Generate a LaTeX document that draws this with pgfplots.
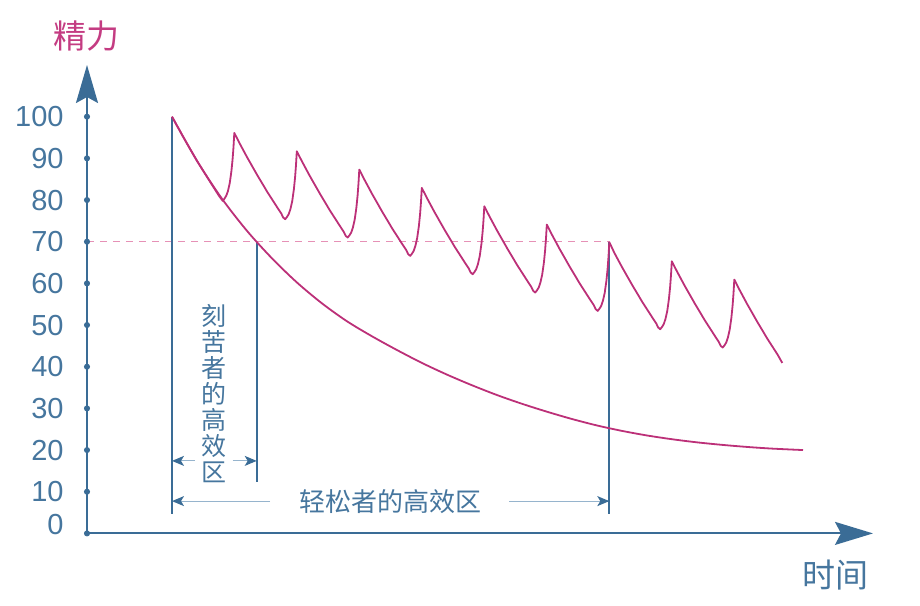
\documentclass[border=0pt]{standalone}
\usepackage{fontspec}
\setmainfont{Liberation Sans}
\newfontfamily\cjk{Noto Sans CJK SC}
\usepackage{pgfplots}
\pgfplotsset{compat=1.18}
\usetikzlibrary{arrows.meta}
\definecolor{axisblue}{RGB}{58,108,150}
\definecolor{textblue}{RGB}{70,118,158}
\definecolor{shaftblue}{RGB}{150,180,205}
\definecolor{curvepink}{RGB}{188,48,120}
\definecolor{titlepink}{RGB}{196,60,130}
\definecolor{dashpink}{RGB}{230,145,182}
\begin{document}
\begin{tikzpicture}
\begin{axis}[
  scale only axis,
  width=393pt, height=234.2pt,
  xmin=0, xmax=786, ymin=0, ymax=112.4,
  axis x line=bottom, axis y line=left,
  x axis line style={draw=axisblue, line width=1pt, -{Stealth[length=19pt,width=11.5pt,inset=3pt]}},
  y axis line style={draw=axisblue, line width=1pt, -{Stealth[length=19pt,width=11pt,inset=3pt]}},
  xtick=\empty,
  ytick={0,10,20,30,40,50,60,70,80,90,100},
  yticklabels={,10,20,30,40,50,60,70,80,90,100},
  major tick length=0pt,
  yticklabel style={anchor=east, inner sep=0pt, xshift=-11.5pt, text=textblue, font=\fontsize{14.5}{14.5}\selectfont},
  clip=false,
]
% 70 reference line
\addplot[dashpink, line width=0.7pt, dash pattern=on 3.5pt off 3pt] coordinates {(0,70) (522.3,70)};
% vertical markers
\addplot[axisblue, line width=0.9pt] coordinates {(85,100) (85,4.6)};
\addplot[axisblue, line width=0.9pt] coordinates {(169.7,70) (169.7,12.4)};
\addplot[axisblue, line width=0.9pt] coordinates {(522.3,70) (522.3,4.6)};
% dimension arrows
\addplot[shaftblue, line width=0.6pt, -{Stealth[length=6pt,width=5pt,inset=1.5pt,color=axisblue]}] coordinates {(108,17.4) (85,17.4)};
\addplot[shaftblue, line width=0.6pt, -{Stealth[length=6pt,width=5pt,inset=1.5pt,color=axisblue]}] coordinates {(145.7,17.4) (169.7,17.4)};
\addplot[shaftblue, line width=0.6pt, -{Stealth[length=6pt,width=5pt,inset=1.5pt,color=axisblue]}] coordinates {(183,7.75) (85,7.75)};
\addplot[shaftblue, line width=0.6pt, -{Stealth[length=6pt,width=5pt,inset=1.5pt,color=axisblue]}] coordinates {(422,7.75) (522.3,7.75)};
% hard worker: steady decay
\addplot[curvepink, line width=0.9pt, smooth] coordinates {
  (85,100) (110,89.4) (135,80.3) (160,72.6) (185,66.0) (210,60.2) (235,55.2)
  (260,50.9) (285,47.3) (310,44.0) (335,40.9) (360,38.1) (385,35.55) (410,33.2)
  (435,31.1) (460,29.2) (485,27.45) (510,25.9) (535,24.6) (560,23.5) (585,22.6)
  (610,21.85) (635,21.25) (660,20.75) (685,20.35) (716,20.0)
};
% relaxed worker: rest and recover
\addplot[curvepink, line width=0.9pt, line join=round] coordinates {
  (85,100) (97.5,94.6) (110,89.4) (122.5,84.6) (132,81.0) (135.7,79.8)
  (137.4,80.3) (139.2,81.0) (140.9,82.1) (142.7,84.0) (144.4,86.9) (145.6,89.8) (146.5,92.7)
  (147.3,96.1) (152.4,93.7) (160.0,90.3) (170.2,86.0) (180.4,81.9) (190.6,78.1) (194.2,76.8) (196.2,75.8)
  (198.2,75.4) (199.9,75.9) (201.7,76.6) (203.4,77.8) (205.2,79.7) (206.9,82.6) (208.1,85.5) (209.0,88.4)
  (209.8,91.7) (214.9,89.3) (222.5,85.9) (232.7,81.6) (242.9,77.5) (253.1,73.7) (256.7,72.4) (258.7,71.4)
  (260.7,71.0) (262.4,71.5) (264.2,72.2) (265.9,73.4) (267.7,75.3) (269.4,78.2) (270.6,81.1) (271.5,84.0)
  (272.3,87.3) (277.4,84.9) (285.0,81.5) (295.2,77.2) (305.4,73.1) (315.6,69.3) (319.2,68.0) (321.2,67.0)
  (323.2,66.6) (324.9,67.1) (326.7,67.8) (328.4,69.0) (330.2,70.9) (331.9,73.8) (333.1,76.7) (334.0,79.6)
  (334.8,82.9) (339.9,80.5) (347.5,77.1) (357.7,72.8) (367.9,68.7) (378.1,64.9) (381.7,63.6) (383.7,62.6)
  (385.7,62.2) (387.4,62.7) (389.2,63.4) (390.9,64.6) (392.7,66.5) (394.4,69.4) (395.6,72.3) (396.5,75.2)
  (397.3,78.5) (402.4,76.1) (410.0,72.7) (420.2,68.4) (430.4,64.3) (440.6,60.5) (444.2,59.2) (446.2,58.2)
  (448.2,57.8) (449.9,58.3) (451.7,59.0) (453.4,60.2) (455.2,62.1) (456.9,65.0) (458.1,67.9) (459.0,70.8)
  (459.8,74.1) (464.9,71.7) (472.5,68.3) (482.7,64.0) (492.9,59.9) (503.1,56.1) (506.7,54.8) (508.7,53.8)
  (510.7,53.4) (512.4,53.9) (514.2,54.6) (515.9,55.8) (517.7,57.7) (519.4,60.6) (520.6,63.5) (521.5,66.4)
  (522.3,69.9) (527.4,67.3) (535.0,63.9) (545.2,59.6) (555.4,55.5) (565.6,51.7) (569.2,50.4) (571.2,49.4)
  (573.2,49.0) (574.9,49.5) (576.7,50.2) (578.4,51.4) (580.2,53.3) (581.9,56.2) (583.1,59.1) (584.0,62.0)
  (584.8,65.3) (589.9,62.9) (597.5,59.5) (607.7,55.2) (617.9,51.1) (628.1,47.3) (631.7,46.0) (633.7,45.0)
  (635.7,44.6) (637.4,45.1) (639.2,45.8) (640.9,47.0) (642.7,48.9) (644.4,51.8) (645.6,54.7) (646.5,57.6)
  (647.3,60.9) (652.4,58.5) (660.0,55.1) (670.2,50.8) (680.4,46.7) (690.6,42.9) (695.3,40.9)
};
% tick dots on the y axis
\addplot[only marks, mark=*, mark size=1.3pt, color=axisblue] coordinates {
  (0,0) (0,10) (0,20) (0,30) (0,40) (0,50) (0,60) (0,70) (0,80) (0,90) (0,100)
};
\node[anchor=east, inner sep=0pt, text=textblue, font=\fontsize{14.5}{14.5}\selectfont] at (axis cs:0,2.2) [xshift=-11.5pt] {0};
\node[text=titlepink, font=\cjk\fontsize{16.5}{16.5}\selectfont] at (axis cs:0,119.3) {精力};
\node[text=textblue, font=\cjk\fontsize{16.5}{16.5}\selectfont] at (axis cs:748,-10.0) {时间};
\node[text=textblue, align=center, inner sep=0pt, font=\cjk\fontsize{12.5}{13}\selectfont] at (axis cs:126.5,33.6) {刻\\苦\\者\\的\\高\\效\\区};
\node[text=textblue, inner sep=0pt, font=\cjk\fontsize{13}{13}\selectfont] at (axis cs:303,7.75) {轻松者的高效区};
\coordinate (bl) at (axis cs:-87,-17.2);
\coordinate (tr) at (axis cs:833,128.0);
\end{axis}
\pgfresetboundingbox
\useasboundingbox (bl) rectangle (tr);
\end{tikzpicture}
\end{document}
